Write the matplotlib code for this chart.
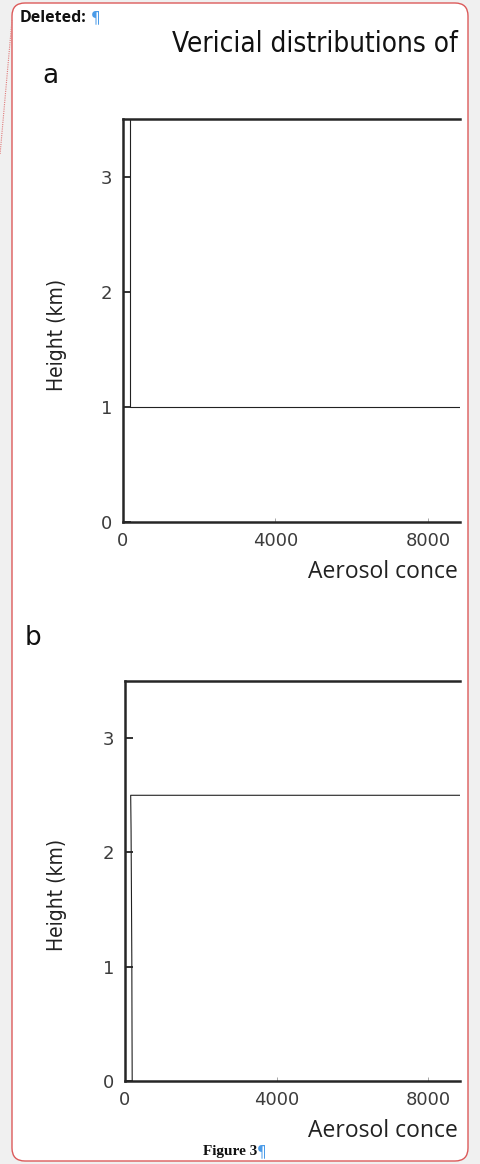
import matplotlib
matplotlib.use('Agg')
import matplotlib.pyplot as plt
from matplotlib.patches import FancyBboxPatch

# profiles (concentration, height in km)
heights_a = [3.5, 1.0, 1.0, 0.0]
conc_a = [180, 180, 20000, 20000]
heights_b = [3.5, 2.5, 2.5, 2.2, 1.65, 1.05, 0.45, 0.0]
conc_b = [20000, 20000, 150, 160, 170, 180, 185, 190]

x_ticks = [0, 4000, 8000]
x_tick_labels = ['0', '4000', '8000']
y_ticks = [0, 1, 2, 3]
y_tick_labels = ['0', '1', '2', '3']

# the figure is cut at the right edge of the balloon, so only this much shows
title = 'Vericial distributions of'
x_label = 'Aerosol conce'
y_label = 'Height (km)'
panel_labels = ['a', 'b']

W, H = 481, 1164
fig = plt.figure(figsize=(W / 100, H / 100), dpi=100)
fig.patch.set_facecolor('#f0f0f0')

# page / comment balloon layer in pixel coordinates
bg = fig.add_axes([0, 0, 1, 1])
bg.set_xlim(0, W)
bg.set_ylim(H, 0)
bg.axis('off')
balloon = FancyBboxPatch((12, 3), 456, 1158, boxstyle='round,pad=0,rounding_size=13',
                         facecolor='white', edgecolor='#dc5a5a', linewidth=1.0)
bg.add_patch(balloon)
bg.plot([12, 0], [20, 155], color='#e07a7a', lw=0.8, ls=(0, (1, 1)))

bg.text(20, 18, 'Deleted:', fontsize=11.5, fontweight='bold', family='Open Sans',
        color='#111111', va='center', ha='left')
bg.text(91, 18, '\u00b6', fontsize=11, family='DejaVu Sans', color='#4a9be8',
        va='center', ha='left')

bg.text(458, 44, title, fontsize=20, family=['Liberation Sans Narrow', 'DejaVu Sans'],
        stretch='condensed', color='#111111', va='center', ha='right')

bg.text(203, 1152, 'Figure 3', fontsize=11, fontweight='bold',
        family='Liberation Serif', color='#111111', va='center', ha='left')
bg.text(257, 1152, '\u00b6', fontsize=11, family='DejaVu Sans', color='#4a9be8',
        va='center', ha='left')

panels = [
    # left, top, bottom (pixels), profile, label position
    (123, 119, 522, conc_a, heights_a, (50, 76)),
    (125, 681, 1081, conc_b, heights_b, (33, 638)),
]

for (left, top, bottom, conc, heights, lab_pos), letter in zip(panels, panel_labels):
    ax = fig.add_axes([left / W, (H - bottom) / H, (460 - left) / W, (bottom - top) / H])
    ax.set_facecolor('none')
    ax.plot(conc, heights, color='#222222', lw=0.8)
    ax.set_xlim(0, 8840)
    ax.set_ylim(0, 3.5)
    ax.spines['right'].set_visible(False)
    for s in ['left', 'bottom', 'top']:
        ax.spines[s].set_linewidth(1.8)
        ax.spines[s].set_color('#262626')
    ax.set_xticks(x_ticks)
    ax.set_xticklabels(x_tick_labels)
    ax.set_yticks(y_ticks)
    ax.set_yticklabels(y_tick_labels)
    ax.tick_params(axis='y', direction='in', length=6, width=1.2, color='#111111',
                   labelsize=13, labelcolor='#3c3c3c', pad=8)
    ax.tick_params(axis='x', direction='in', length=3, width=0.6, color='#999999',
                   labelsize=13, labelcolor='#3c3c3c', pad=7)

    bg.text(lab_pos[0], lab_pos[1], letter, fontsize=19, family='DejaVu Sans',
            color='#111111', va='center', ha='center')
    bg.text(57, (top + bottom) / 2 + 14, y_label, fontsize=15, rotation=90,
            family=['Liberation Sans Narrow', 'DejaVu Sans'], stretch='condensed',
            color='#222222', va='center', ha='center')
    bg.text(308, bottom + 50, x_label, fontsize=16.5, family='Open Sans',
            color='#222222', va='center', ha='left')

fig.savefig('out.png', dpi=100, facecolor=fig.get_facecolor())
